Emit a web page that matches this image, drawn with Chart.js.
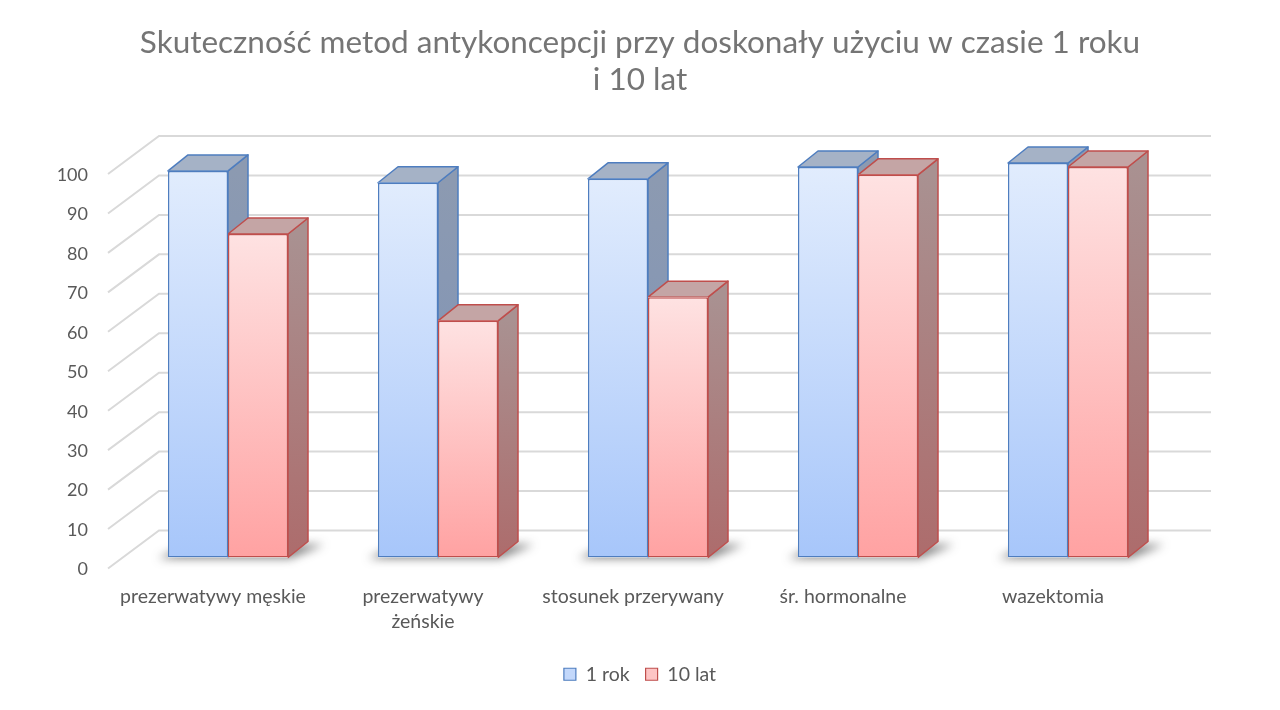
<!DOCTYPE html>
<html>
<head>
<meta charset="utf-8">
<script src="https://cdn.jsdelivr.net/npm/chart.js@4.4.1/dist/chart.umd.min.js"></script>
<style>
  html, body { margin: 0; padding: 0; background: #ffffff; }
  #wrap { width: 1280px; height: 710px; }
</style>
</head>
<body>
<div id="wrap"><canvas id="c" width="1280" height="710"></canvas></div>
<script>
// ---- data ----
const categories = ['prezerwatywy męskie', ['prezerwatywy', 'żeńskie'], 'stosunek przerywany', 'śr. hormonalne', 'wazektomia'];
const seriesNames = ['1 rok', '10 lat'];
const oneYear = [98, 95, 96, 99, 100];
const tenYears = [82, 60, 66, 97, 99];
const yTicks = [0, 10, 20, 30, 40, 50, 60, 70, 80, 90, 100];
const titleLines = ['Skuteczność metod antykoncepcji przy doskonały użyciu w czasie 1 roku', 'i 10 lat'];

// ---- styles ----
const FONT = 'Lato, "Open Sans", sans-serif';
const TXT = '#595959';
const GRID = '#d9d9d9';
const BAR_DX = 20, BAR_DY = -16;          // depth of a bar
const FRONT_DX = -15, FRONT_DY = 11;      // bar plane -> front plane
const BACK_DX = 36, BACK_DY = -27;        // bar plane -> back wall
const palette = [
  { front: ['#e1ecfd', '#a7c6fa'], border: '#4e7dbf', top: '#a5b2c6', side: ['#8c9ab1', '#7c92b9'] },
  { front: ['#fee2e2', '#ffa2a2'], border: '#bf4e4c', top: '#c4a5a5', side: ['#a99191', '#ad6c6c'] }
];

function frontGradient(ctx) {
  const chart = ctx.chart;
  const y = chart.scales.y;
  if (!y || ctx.raw === undefined) return palette[ctx.datasetIndex].front[1];
  const top = y.getPixelForValue(ctx.raw);
  const base = y.getPixelForValue(0);
  const g = chart.ctx.createLinearGradient(0, top, 0, base);
  const p = palette[ctx.datasetIndex].front;
  g.addColorStop(0, p[0]);
  g.addColorStop(1, p[1]);
  return g;
}

const threeD = {
  id: 'threeD',
  afterLayout(chart) {
    // let the y tick labels (which sit in the left padding) escape the label clip box
    if (chart.scales.y) chart.scales.y.left = 0;
  },
  beforeDatasetsDraw(chart) {
    const { ctx, chartArea, scales } = chart;
    const y = scales.y;
    ctx.save();
    // back wall + left side gridlines
    ctx.strokeStyle = GRID;
    ctx.lineWidth = 2;
    yTicks.forEach(v => {
      const py = y.getPixelForValue(v);
      ctx.beginPath();
      ctx.moveTo(chartArea.left + FRONT_DX, py + FRONT_DY);
      ctx.lineTo(chartArea.left + BACK_DX, py + BACK_DY);
      ctx.lineTo(chartArea.right + BACK_DX + 2, py + BACK_DY);
      ctx.stroke();
    });
    // shadows
    const metas = [chart.getDatasetMeta(0), chart.getDatasetMeta(1)];
    ctx.filter = 'blur(5px)';
    ctx.fillStyle = 'rgba(50,50,50,0.6)';
    for (let i = 0; i < categories.length; i++) {
      const a = metas[0].data[i], b = metas[1].data[i];
      const L = a.x - a.width / 2, R = b.x + b.width / 2, base = a.base;
      ctx.beginPath();
      ctx.moveTo(L - 10, base + 1);
      ctx.lineTo(R + 2, base + 1);
      ctx.lineTo(R + BAR_DX + 16, base + BAR_DY + 3);
      ctx.lineTo(L + BAR_DX, base + BAR_DY + 3);
      ctx.closePath();
      ctx.fill();
    }
    ctx.filter = 'none';
    // side and top faces, blue then red for each category
    for (let i = 0; i < categories.length; i++) {
      for (let d = 0; d < 2; d++) {
        const el = metas[d].data[i];
        const p = palette[d];
        const L = el.x - el.width / 2, R = el.x + el.width / 2, T = el.y, B = el.base;
        ctx.lineWidth = 1.5;
        ctx.strokeStyle = p.border;
        ctx.lineJoin = 'round';
        // side
        const sg = ctx.createLinearGradient(0, T, 0, B);
        sg.addColorStop(0, p.side[0]);
        sg.addColorStop(1, p.side[1]);
        ctx.fillStyle = sg;
        ctx.beginPath();
        ctx.moveTo(R, T);
        ctx.lineTo(R + BAR_DX, T + BAR_DY);
        ctx.lineTo(R + BAR_DX, B + BAR_DY);
        ctx.lineTo(R, B);
        ctx.closePath();
        ctx.fill();
        ctx.stroke();
        // top
        ctx.fillStyle = p.top;
        ctx.beginPath();
        ctx.moveTo(L, T);
        ctx.lineTo(L + BAR_DX, T + BAR_DY);
        ctx.lineTo(R + BAR_DX, T + BAR_DY);
        ctx.lineTo(R, T);
        ctx.closePath();
        ctx.fill();
        ctx.stroke();
        // front face underlay (hides faces of neighbours drawn earlier)
        ctx.fillStyle = '#ffffff';
        ctx.fillRect(L, T, R - L, B - T);
      }
    }
    ctx.restore();
  }
};

const chart = new Chart(document.getElementById('c'), {
  type: 'bar',
  data: {
    labels: categories,
    datasets: [
      { label: seriesNames[0], data: oneYear, backgroundColor: frontGradient, borderColor: palette[0].border, borderWidth: 1.5, borderSkipped: false },
      { label: seriesNames[1], data: tenYears, backgroundColor: frontGradient, borderColor: palette[1].border, borderWidth: 1.5, borderSkipped: false }
    ]
  },
  options: {
    responsive: false,
    animation: false,
    devicePixelRatio: 1,
    layout: { padding: { left: 107, right: 107, top: 0, bottom: 16 } },
    datasets: { bar: { categoryPercentage: 120 / 210, barPercentage: 1.0 } },
    plugins: {
      title: {
        display: true,
        text: titleLines,
        color: '#757575',
        font: { family: FONT, size: 31.5, weight: 'normal', lineHeight: 1.175 },
        padding: { top: 24.5, bottom: 64.5 }
      },
      legend: {
        display: true,
        position: 'bottom',
        labels: {
          color: TXT,
          font: { family: FONT, size: 19.5 },
          boxWidth: 12,
          boxHeight: 12,
          padding: 16,
          generateLabels(chart) {
            return chart.data.datasets.map((ds, i) => ({
              text: ds.label,
              fillStyle: i === 0 ? '#c3d8fb' : '#fdc4c4',
              strokeStyle: palette[i].border,
              lineWidth: 1.2,
              fontColor: TXT,
              datasetIndex: i
            }));
          }
        }
      },
      tooltip: { enabled: false }
    },
    scales: {
      x: {
        grid: { display: false, drawTicks: false },
        border: { display: false },
        ticks: {
          color: TXT,
          font: { family: FONT, size: 19.5, lineHeight: 1.28 },
          padding: 26.5,
          labelOffset: -15,
          maxRotation: 0,
          minRotation: 0,
          autoSkip: false
        },
        afterFit(scale) { scale.height = 91; }
      },
      y: {
        min: 0,
        max: 100,
        grid: { display: false, drawTicks: false },
        border: { display: false },
        ticks: {
          stepSize: 10,
          color: TXT,
          font: { family: FONT, size: 18 },
          padding: 35,
          labelOffset: 12
        },
        afterFit(scale) { scale.width = 16; }
      }
    }
  },
  plugins: [threeD]
});
</script>
</body>
</html>
